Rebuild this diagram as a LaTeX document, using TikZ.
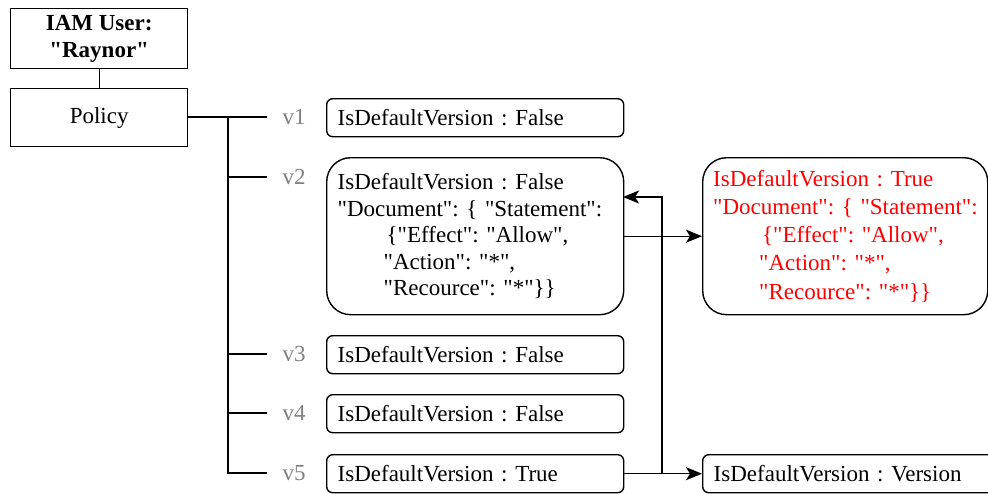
\documentclass[tikz,border=0pt]{standalone}
\usepackage{fontspec}
\setmainfont{Liberation Serif}
\usetikzlibrary{arrows.meta}
\newcommand\qq{\textquotedbl}
\frenchspacing

\begin{document}
\begin{tikzpicture}[x=1pt,y=-1pt,
  every node/.style={font=\fontsize{23}{26.5}\selectfont},
  plainbox/.style={draw, line width=1.4pt, anchor=north west, inner sep=0pt, align=center},
  verbox/.style={draw, line width=1.4pt, anchor=north west, inner xsep=11pt, inner ysep=0pt,
    rounded corners=6pt, align=left},
  bigbox/.style={verbox, rounded corners=24pt},
  vlabel/.style={text=black!50, inner sep=0pt},
  wire/.style={line width=1.4pt},
  arr/.style={wire, -{Stealth[length=16pt,width=13pt,inset=4pt]}}
]
\clip (0,0) rectangle (988,493);
\useasboundingbox (0,0) rectangle (988,493);

% user and its policy
\node[plainbox, minimum width=177pt, minimum height=60pt] (user) at (10,8)
  {\bfseries IAM User:\\\bfseries \qq Raynor\qq};
\node[plainbox, minimum width=177pt, minimum height=58pt] (policy) at (10,88) {Policy};
\draw[wire] (user) -- (policy);

% policy versions
\node[verbox, text width=275pt, minimum height=38pt] (v1) at (326,98) {IsDefaultVersion : False};
\node[bigbox, text width=275pt, minimum height=157pt] (v2) at (326,157)
  {\mbox{IsDefaultVersion : False}\\
   \mbox{\qq Document\qq: \{ \qq Statement\qq:}\\
   \mbox{\hspace*{49pt}\{\qq Effect\qq: \qq Allow\qq,}\\
   \mbox{\hspace*{46pt}\qq Action\qq: \qq*\qq,}\\
   \mbox{\hspace*{46pt}\qq Recource\qq: \qq*\qq\}\}}};
\node[verbox, text width=275pt, minimum height=38pt] (v3) at (326,335) {IsDefaultVersion : False};
\node[verbox, text width=275pt, minimum height=38pt] (v4) at (326,394) {IsDefaultVersion : False};
\node[verbox, text width=275pt, minimum height=38pt] (v5) at (326,454) {IsDefaultVersion : True};

% resulting default version
\node[bigbox, text width=264pt, inner xsep=10.5pt, minimum height=157pt, text=red,
      font=\fontsize{23}{28.2}\selectfont] (red) at (702,157)
  {\mbox{IsDefaultVersion : True}\\
   \mbox{\qq Document\qq: \{ \qq Statement\qq:}\\
   \mbox{\hspace*{49pt}\{\qq Effect\qq: \qq Allow\qq,}\\
   \mbox{\hspace*{46pt}\qq Action\qq: \qq*\qq,}\\
   \mbox{\hspace*{46pt}\qq Recource\qq: \qq*\qq\}\}}};
\node[verbox, text width=290pt, minimum height=38pt] (ver) at (702,454) {IsDefaultVersion : Version};

% version labels
\node[vlabel] (l1) at (294,117) {v1};
\node[vlabel] (l2) at (294,177) {v2};
\node[vlabel] (l3) at (294,354) {v3};
\node[vlabel] (l4) at (294,413) {v4};
\node[vlabel] (l5) at (294,473) {v5};

% tree of versions
\coordinate (trunk) at (228,117);
\coordinate (b1) at (267,117);
\coordinate (b2) at (267,177);
\coordinate (b3) at (267,354);
\coordinate (b4) at (267,413);
\coordinate (b5) at (267,473);
\draw[wire] (policy.east |- b1) -- (b1);
\draw[wire] (trunk) |- (b5);
\draw[wire] (trunk |- b2) -- (b2);
\draw[wire] (trunk |- b3) -- (b3);
\draw[wire] (trunk |- b4) -- (b4);

% version switching
\coordinate (split) at (662,473);
\coordinate (v2in) at (623,197);
\draw[arr] (v2.east) -- (red.west);
\draw[arr] (v5.east) -- (ver.west);
\draw[arr] (split) |- (v2in);
\end{tikzpicture}
\end{document}
